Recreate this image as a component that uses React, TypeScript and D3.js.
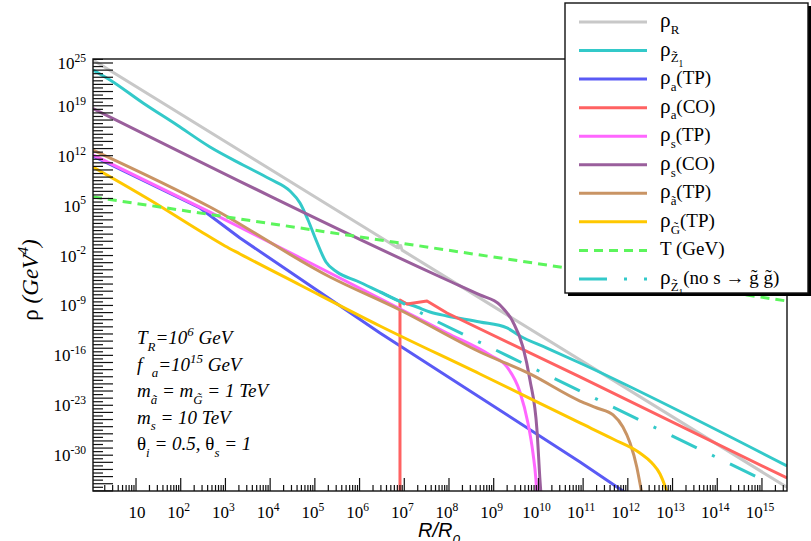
import React from "react";
import * as d3 from "d3";

// ---------- axis data (log10 values) ----------
const xLogDomain: [number, number] = [0.038, 15.56]; // log10(R/R0)
const yLogDomain: [number, number] = [-35.02, 25.56]; // log10(rho / GeV^4)
const xLabelExps = [1, 2, 3, 4, 5, 6, 7, 8, 9, 10, 11, 12, 13, 14, 15];
const yLabelExps = [25, 19, 12, 5, -2, -9, -16, -23, -30];

// ---------- series: [log10(R/R0), log10(value)] ----------
const rhoR: [number, number][] = [
  [0.038, 25.42], [6.84, -0.86], [6.86, -0.45], [6.88, -0.94], [6.92, -0.6], [6.95, -1.24], [15.56, -34.5],
];
const rhoZ1: [number, number][] = [
  [0.038, 24.02], [0.419, 22.62], [1.157, 19.39], [1.917, 16.3], [2.655, 13.22], [3.393, 10.7],
  [3.997, 8.73], [4.444, 7.05], [4.668, 5.37], [4.847, 2.98], [5.026, 0.18], [5.249, -2.91],
  [5.495, -4.31], [5.942, -5.57], [6.457, -7.11], [6.837, -8.24], [7.284, -9.22], [7.575, -9.92],
  [7.955, -10.48], [8.693, -11.32], [9.297, -12.16], [9.587, -13.28], [10.19, -14.97], [10.93, -17.07],
  [15.56, -31.51],
];
const rhoA_TP: [number, number][] = [
  [0.038, 11.96], [2.431, 4.67], [3.326, 0.46], [6.457, -12.86], [10.93, -30.95], [11.89, -35.02], [12.27, -36.56],
];
const rhoA_CO: [number, number][] = [
  [6.904, -36.5], [6.904, -8.24], [7.06, -8.8], [7.508, -8.38], [7.955, -10.06], [10.93, -19.03], [15.56, -33.2],
];
const rhoS_TP: [number, number][] = [
  [0.038, 12.1], [2.655, 4.1], [5.339, -4.45], [7.128, -10.2], [7.955, -12.86], [8.917, -15.95],
  [9.297, -17.63], [9.587, -21.14], [9.766, -25.48], [9.878, -29.69], [9.945, -33.48], [9.967, -35.72],
];
const rhoS_CO: [number, number][] = [
  [0.038, 18.62], [7.955, -5.43], [8.693, -7.53], [9.141, -8.94], [9.431, -11.32], [9.655, -14.83],
  [9.811, -19.45], [9.968, -26.47], [10.035, -33.48], [10.06, -35.72],
];
const rhoAxino_TP: [number, number][] = [
  [0.038, 12.8], [2.655, 4.81], [5.339, -5.01], [6.904, -9.64], [8.693, -15.53], [9.811, -18.6],
  [10.93, -22.4], [11.31, -23.38], [11.67, -24.36], [11.89, -26.04], [12.05, -28.29], [12.2, -31.65],
  [12.27, -33.9], [12.32, -35.58],
];
const rhoGravitino_TP: [number, number][] = [
  [0.038, 10.42], [1.313, 5.79], [2.431, 1.44], [2.99, -0.66], [3.326, -1.78], [4.668, -6.13],
  [6.457, -11.88], [8.693, -18.61], [10.93, -25.48], [11.67, -27.73], [12.27, -29.69], [12.54, -31.09],
  [12.72, -32.64], [12.83, -34.32], [12.9, -35.72],
];
const tempGeV: [number, number][] = [
  [0.038, 6.21], [8.0, -1.27], [15.56, -8.38],
];
const rhoZ1_noDecay: [number, number][] = [
  [6.457, -7.11], [6.837, -8.24], [7.754, -11.32], [15.07, -33.62],
];

const SERIF = "'Liberation Serif', 'DejaVu Serif', serif";
const SANS = "'Liberation Sans', Arial, sans-serif";

type Seg = { t: string; lv?: "sub" | "sub2" | "sup"; it?: boolean; k?: number };
const LV_OFF: Record<string, number> = { base: 0, sub: 0.36, sub2: 0.62, sup: -0.42 };
const LV_SZ: Record<string, number> = { base: 1, sub: 0.68, sub2: 0.5, sup: 0.68 };

function Rich(props: {
  x: number; y: number; segs: Seg[]; size: number; anchor?: string; italic?: boolean;
  family?: string; transform?: string; fill?: string;
}) {
  const { x, y, segs, size, anchor = "start", italic = false, family = SERIF, transform, fill = "#000" } = props;
  let prev = 0;
  return (
    <text x={x} y={y} fontSize={size} fontFamily={family} fontStyle={italic ? "italic" : "normal"}
      textAnchor={anchor} transform={transform} fill={fill} style={{ whiteSpace: "pre" }}>
      {segs.map((s, i) => {
        const key = s.lv ?? "base";
        const off = LV_OFF[key] * size;
        const dy = off - prev;
        prev = off;
        return (
          <tspan key={i} dy={dy} fontSize={LV_SZ[key] * size * (s.k ?? 1)}
            fontStyle={s.it === undefined ? undefined : s.it ? "italic" : "normal"}>
            {s.t}
          </tspan>
        );
      })}
    </text>
  );
}

const RHO: Seg = { t: "ρ", k: 1.12 };

const series = [
  { data: rhoR, color: "#c8c8c8", curve: "linear", dash: undefined, label: [RHO, { t: "R", lv: "sub" }] as Seg[] },
  { data: rhoZ1, color: "#33c9c9", curve: "mono", dash: undefined, label: [RHO, { t: "Z\u0303", lv: "sub" }, { t: "1", lv: "sub2" }] as Seg[] },
  { data: rhoA_TP, color: "#5a5af5", curve: "linear", dash: undefined, label: [RHO, { t: "a", lv: "sub" }, { t: "(TP)" }] as Seg[] },
  { data: rhoA_CO, color: "#ff6262", curve: "linear", dash: undefined, label: [RHO, { t: "a", lv: "sub" }, { t: "(CO)" }] as Seg[] },
  { data: rhoS_TP, color: "#ff66ff", curve: "mono", dash: undefined, label: [RHO, { t: "s", lv: "sub" }, { t: "(TP)" }] as Seg[] },
  { data: rhoS_CO, color: "#9a5f9c", curve: "mono", dash: undefined, label: [RHO, { t: "s", lv: "sub" }, { t: "(CO)" }] as Seg[] },
  { data: rhoAxino_TP, color: "#c99464", curve: "mono", dash: undefined, label: [RHO, { t: "a\u0303", lv: "sub" }, { t: "(TP)" }] as Seg[] },
  { data: rhoGravitino_TP, color: "#ffc800", curve: "mono", dash: undefined, label: [RHO, { t: "G\u0303", lv: "sub" }, { t: "(TP)" }] as Seg[] },
  { data: tempGeV, color: "#5cf55c", curve: "linear", dash: "9,6", label: [{ t: "T (GeV)" }] as Seg[] },
  { data: rhoZ1_noDecay, color: "#33c9c9", curve: "linear", dash: "28,17,3,17", label: [RHO, { t: "Z\u0303", lv: "sub" }, { t: "1", lv: "sub2" }, { t: "(no s → g\u0303 g\u0303)" }] as Seg[] },
];

const annotations: Seg[][] = [
  [{ t: "T" }, { t: "R", lv: "sub" }, { t: "=10" }, { t: "6", lv: "sup" }, { t: " GeV" }],
  [{ t: "f  " }, { t: "a", lv: "sub" }, { t: "=10" }, { t: "15", lv: "sup" }, { t: " GeV" }],
  [{ t: "m" }, { t: "a\u0303", lv: "sub" }, { t: " = m" }, { t: "G\u0303", lv: "sub" }, { t: " = 1 TeV" }],
  [{ t: "m" }, { t: "s", lv: "sub" }, { t: " = 10 TeV" }],
  [{ t: "θ", it: false }, { t: "i", lv: "sub" }, { t: " = 0.5, " }, { t: "θ", it: false }, { t: "s", lv: "sub" }, { t: " = 1" }],
];

export default function App() {
  const L = 93, R = 787, T = 59, B = 491;
  const x = d3.scaleLog().domain(xLogDomain.map((v) => 10 ** v)).range([L, R]);
  const y = d3.scaleLog().domain(yLogDomain.map((v) => 10 ** v)).range([B, T]);

  const mkLine = (curve: string) =>
    d3.line<[number, number]>()
      .x((d) => x(10 ** d[0]))
      .y((d) => y(10 ** d[1]))
      .curve(curve === "mono" ? d3.curveMonotoneX : d3.curveLinear);

  // x ticks
  const xMajor: number[] = [];
  const xMinor: number[] = [];
  for (let e = 0; e <= 16; e++) {
    for (let m = 1; m <= 9; m++) {
      const v = m * 10 ** e;
      const lv = Math.log10(v);
      if (lv < xLogDomain[0] || lv > xLogDomain[1]) continue;
      (m === 1 ? xMajor : xMinor).push(v);
    }
  }
  // y ticks
  const yMajor: number[] = [];
  const yHalf: number[] = [];
  for (let e = -36; e <= 26; e++) {
    if (e >= yLogDomain[0] && e <= yLogDomain[1]) yMajor.push(10 ** e);
    if (e + 0.5 >= yLogDomain[0] && e + 0.5 <= yLogDomain[1]) yHalf.push(10 ** (e + 0.5));
  }

  const legX0 = 565, legY0 = 3, legW = 243, legH = 290;
  const rowY = (i: number) => 22 + i * 28.55;

  return (
    <svg width={811} height={541} style={{ position: "fixed", left: 0, top: 0, background: "#fff" }}>
      <defs>
        <clipPath id="frameClip">
          <rect x={L} y={T} width={R - L} height={B - T} />
        </clipPath>
      </defs>
      <rect x={0} y={0} width={811} height={541} fill="#fff" />

      {/* curves */}
      <g clipPath="url(#frameClip)">
        {series.map((s, i) => (
          <path key={i} d={mkLine(s.curve)(s.data) ?? ""} fill="none" stroke={s.color}
            strokeWidth={3} strokeDasharray={s.dash} strokeLinejoin="round" />
        ))}
      </g>

      {/* frame */}
      <rect x={L} y={T} width={R - L} height={B - T} fill="none" stroke="#111" strokeWidth={1.4} />

      {/* x ticks */}
      {xMajor.map((v, i) => (
        <line key={"xM" + i} x1={x(v)} x2={x(v)} y1={B} y2={B - 13} stroke="#111" strokeWidth={1.2} />
      ))}
      {xMinor.map((v, i) => (
        <line key={"xm" + i} x1={x(v)} x2={x(v)} y1={B} y2={B - 6} stroke="#111" strokeWidth={1.2} />
      ))}
      {/* y ticks */}
      {yMajor.map((v, i) => (
        <line key={"yM" + i} x1={L} x2={L + 20} y1={y(v)} y2={y(v)} stroke="#111" strokeWidth={1.2} />
      ))}
      {yHalf.map((v, i) => (
        <line key={"yh" + i} x1={L} x2={L + 10} y1={y(v)} y2={y(v)} stroke="#111" strokeWidth={1.2} />
      ))}

      {/* x labels */}
      {xLabelExps.map((e) => (
        <Rich key={"xl" + e} x={x(10 ** e) - (e === 1 ? -1 : 2)} y={518} size={17} anchor="middle"
          segs={e === 1 ? [{ t: "10" }] : [{ t: "10" }, { t: String(e), lv: "sup" }]} />
      ))}
      {/* y labels */}
      {yLabelExps.map((e) => (
        <Rich key={"yl" + e} x={86} y={y(10 ** e) + 6} size={17} anchor="end"
          segs={[{ t: "10" }, { t: String(e), lv: "sup" }]} />
      ))}

      {/* axis titles */}
      <Rich x={0} y={0} size={23} anchor="middle" transform="translate(38,280) rotate(-90)"
        segs={[{ t: "ρ", it: false }, { t: " (GeV", it: true }, { t: "4", lv: "sup", it: true }, { t: ")", it: true }]} />
      <Rich x={418} y={537} size={20} anchor="start" italic family={SANS}
        segs={[{ t: "R/R" }, { t: "0", lv: "sub" }]} />

      {/* annotations */}
      {annotations.map((segs, i) => (
        <Rich key={"an" + i} x={137} y={344 + i * 26.5} size={19} italic segs={segs} />
      ))}

      {/* legend */}
      <rect x={legX0 + 3} y={legY0 + 3} width={legW} height={legH} fill="#000" />
      <rect x={legX0} y={legY0} width={legW} height={legH} fill="#fff" stroke="#111" strokeWidth={1.4} />
      {series.map((s, i) => (
        <g key={"lg" + i}>
          <line x1={579} x2={647} y1={rowY(i)} y2={rowY(i)} stroke={s.color} strokeWidth={3}
            strokeDasharray={s.dash} />
          <Rich x={660} y={rowY(i) + 5} size={19} segs={s.label} />
        </g>
      ))}
    </svg>
  );
}
